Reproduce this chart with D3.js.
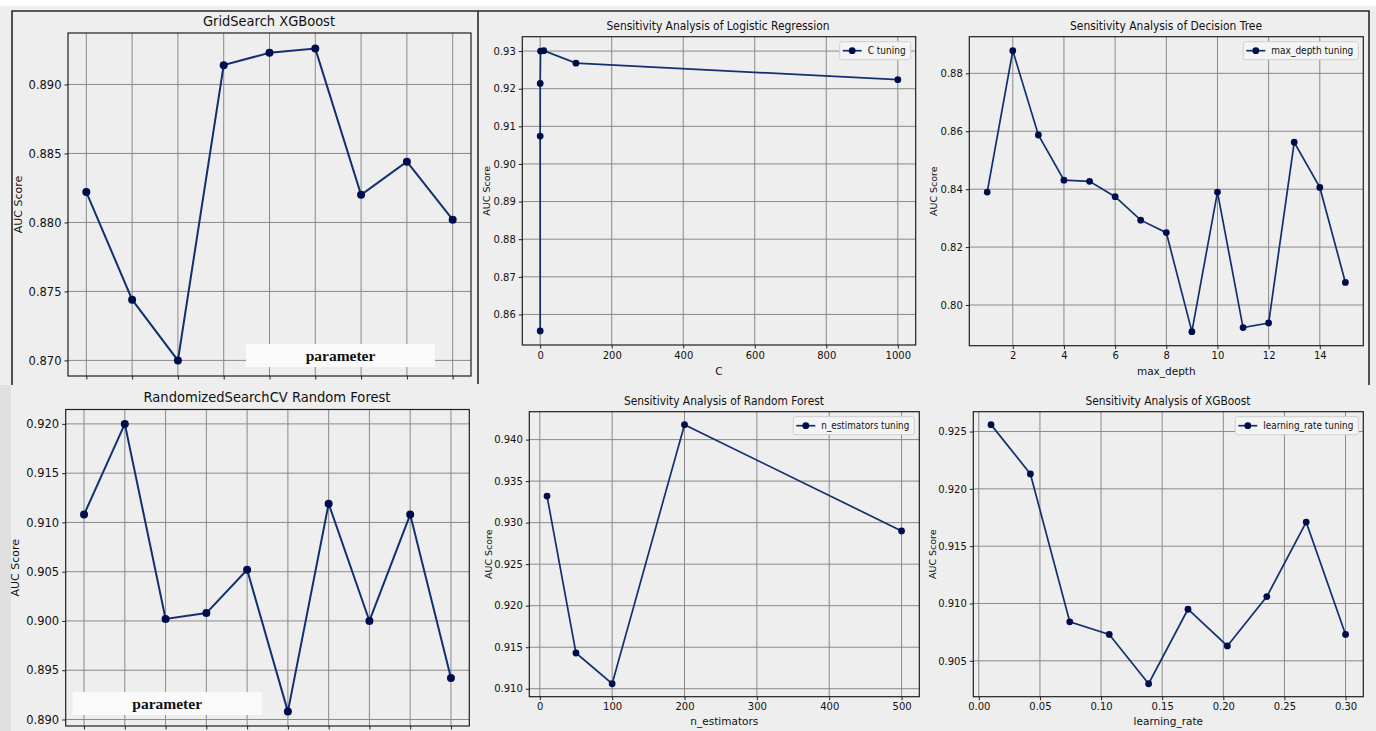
<!DOCTYPE html>
<html>
<head>
<meta charset="utf-8">
<script src="https://cdn.jsdelivr.net/npm/d3@7"></script>
<style>
body { margin: 0; background: #eeeeee; }
svg { display: block; font-family: "DejaVu Sans", sans-serif; }
</style>
</head>
<body>
<div id="container"></div>
<script>
// GridSearch XGBoost, 9 parameter combos (labels cut off in the source)
var gsXgbScores = [0.8822, 0.8744, 0.8700, 0.8914, 0.8923, 0.8926, 0.8820, 0.8844, 0.8802];
var gsXgbYTicks = [0.870, 0.875, 0.880, 0.885, 0.890];

// logistic regression, C tuning
var lrC = [0.001, 0.01, 0.1, 1, 10, 100, 1000];
var lrScores = [0.8556, 0.9074, 0.9214, 0.9300, 0.9301, 0.9268, 0.9224];
var lrXTicks = [0, 200, 400, 600, 800, 1000];
var lrYTicks = [0.86, 0.87, 0.88, 0.89, 0.90, 0.91, 0.92, 0.93];

// decision tree, max_depth tuning
var dtDepth = [1, 2, 3, 4, 5, 6, 7, 8, 9, 10, 11, 12, 13, 14, 15];
var dtScores = [0.8390, 0.8878, 0.8587, 0.8431, 0.8427, 0.8374, 0.8293, 0.8250, 0.7908, 0.8390, 0.7922, 0.7938, 0.8562, 0.8406, 0.8078];
var dtXTicks = [2, 4, 6, 8, 10, 12, 14];
var dtYTicks = [0.80, 0.82, 0.84, 0.86, 0.88];

// RandomizedSearchCV random forest, 10 parameter combos
var rsRfScores = [0.9108, 0.9200, 0.9002, 0.9008, 0.9052, 0.8908, 0.9119, 0.9000, 0.9108, 0.8942];
var rsRfYTicks = [0.890, 0.895, 0.900, 0.905, 0.910, 0.915, 0.920];

// random forest, n_estimators tuning
var rfN = [10, 50, 100, 200, 500];
var rfScores = [0.9332, 0.9143, 0.9106, 0.9418, 0.9290];
var rfXTicks = [0, 100, 200, 300, 400, 500];
var rfYTicks = [0.910, 0.915, 0.920, 0.925, 0.930, 0.935, 0.940];

// xgboost, learning_rate tuning
var xgbRate = [0.01, 0.0422, 0.0744, 0.1067, 0.1389, 0.1711, 0.2033, 0.2356, 0.2678, 0.30];
var xgbScores = [0.9256, 0.9213, 0.9084, 0.9073, 0.9030, 0.9095, 0.9063, 0.9106, 0.9171, 0.9073];
var xgbXTicks = [0.00, 0.05, 0.10, 0.15, 0.20, 0.25, 0.30];
var xgbYTicks = [0.905, 0.910, 0.915, 0.920, 0.925];

var W = 1376, H = 731;
var lineColor = "#12306f", dotColor = "#000d4c";

var svg = d3.select("div#container").append("svg")
	.attr("width", W)
	.attr("height", H);

svg.append("rect").attr("width", W).attr("height", H).attr("fill", "#eeeeee");
svg.append("rect").attr("width", W).attr("height", 6).attr("fill", "#ffffff"); //white strip on top
svg.append("rect").attr("x", 0).attr("y", 385).attr("width", 11).attr("height", H - 385).attr("fill", "#e0e0e0");

function idx(arr) { //category positions for the search plots
	return arr.map(function (d, i) { return i; });
}

function pad(ext) { //matplotlib-like 5% margins
	var m = (ext[1] - ext[0]) * 0.05;
	return [ext[0] - m, ext[1] + m];
}

var panels = [
	{ xs: idx(gsXgbScores), ys: gsXgbScores, xTicks: idx(gsXgbScores), yTicks: gsXgbYTicks, yFmt: ".3f", xFmt: null,
	  box: [68, 471, 33, 376], title: "GridSearch XGBoost", titleAt: [269, 26], titleSize: 14, titleLen: 132,
	  yLabelX: 18, tickSize: 11.5, r: 4, lw: 2, param: [246, 344, 189, 23] },
	{ xs: lrC, ys: lrScores, xTicks: lrXTicks, yTicks: lrYTicks, yFmt: ".2f", xFmt: "d",
	  box: [522.3, 915.7, 36.7, 345], title: "Sensitivity Analysis of Logistic Regression", titleAt: [718, 30], titleSize: 12.5, titleLen: 223,
	  yLabelX: 487, xLabel: "C", xLabelY: 375, tickSize: 10, r: 3.4, lw: 1.7, legend: "C tuning", legendLen: 38 },
	{ xs: dtDepth, ys: dtScores, xTicks: dtXTicks, yTicks: dtYTicks, yFmt: ".2f", xFmt: "d",
	  box: [969.3, 1363.3, 36.7, 345.7], title: "Sensitivity Analysis of Decision Tree", titleAt: [1166, 30], titleSize: 12.5, titleLen: 192,
	  yLabelX: 934, xLabel: "max_depth", xLabelY: 375, tickSize: 10, r: 3.4, lw: 1.7, legend: "max_depth tuning", legendLen: 82 },
	{ xs: idx(rsRfScores), ys: rsRfScores, xTicks: idx(rsRfScores), yTicks: rsRfYTicks, yFmt: ".3f", xFmt: null,
	  box: [65.7, 469.3, 409.5, 726], title: "RandomizedSearchCV Random Forest", titleAt: [267, 402], titleSize: 14, titleLen: 247,
	  yLabelX: 15, tickSize: 11.5, r: 4, lw: 2, param: [72.7, 692, 189, 23] },
	{ xs: rfN, ys: rfScores, xTicks: rfXTicks, yTicks: rfYTicks, yFmt: ".3f", xFmt: "d",
	  box: [529.3, 919.3, 411.7, 696.7], title: "Sensitivity Analysis of Random Forest", titleAt: [724, 405], titleSize: 12.5, titleLen: 200,
	  yLabelX: 489, xLabel: "n_estimators", xLabelY: 725, tickSize: 10, r: 3.4, lw: 1.7, legend: "n_estimators tuning", legendLen: 88 },
	{ xs: xgbRate, ys: xgbScores, xTicks: xgbXTicks, yTicks: xgbYTicks, yFmt: ".3f", xFmt: ".2f",
	  box: [973.3, 1363.3, 411.7, 696.7], title: "Sensitivity Analysis of XGBoost", titleAt: [1168, 405], titleSize: 12.5, titleLen: 165,
	  yLabelX: 933, xLabel: "learning_rate", xLabelY: 725, tickSize: 10, r: 3.4, lw: 1.7, legend: "learning_rate tuning", legendLen: 90 }
];

panels.forEach(drawPanel);

// frame round the top row and the divider
var frame = svg.append("g").attr("fill", "none").attr("stroke", "#2a2a2a").attr("stroke-width", 1.6);
frame.append("path").attr("d", "M12,385V11H1369V385");
frame.append("line").attr("x1", 478).attr("x2", 478).attr("y1", 11).attr("y2", 384);

function drawPanel(p) {
	var left = p.box[0], right = p.box[1], top = p.box[2], bottom = p.box[3];
	var xDom = p.xFmt ? pad(d3.extent(p.xs)) : [-0.4 - (p.xs.length > 9 ? 0.05 : 0), p.xs.length - 1 + 0.4 + (p.xs.length > 9 ? 0.05 : 0)];
	var x = d3.scaleLinear().domain(xDom).range([left, right]);
	var y = d3.scaleLinear().domain(pad(d3.extent(p.ys))).range([bottom, top]);
	var g = svg.append("g");

	// grid
	g.append("g").selectAll("line").data(p.xTicks).enter().append("line")
		.attr("x1", function (d) { return x(d); }).attr("x2", function (d) { return x(d); })
		.attr("y1", top).attr("y2", bottom)
		.attr("stroke", "#8a8a8a").attr("stroke-width", 1);
	g.append("g").selectAll("line").data(p.yTicks).enter().append("line")
		.attr("x1", left).attr("x2", right)
		.attr("y1", function (d) { return y(d); }).attr("y2", function (d) { return y(d); })
		.attr("stroke", "#8a8a8a").attr("stroke-width", 1);

	// axes
	var ya = g.append("g").attr("transform", "translate(" + left + ",0)")
		.call(d3.axisLeft(y).tickValues(p.yTicks).tickFormat(d3.format(p.yFmt)).tickSize(3.5).tickPadding(3));
	var xa = g.append("g").attr("transform", "translate(0," + bottom + ")")
		.call(d3.axisBottom(x).tickValues(p.xTicks).tickFormat(p.xFmt ? d3.format(p.xFmt) : "").tickSize(3.5).tickPadding(3));
	[ya, xa].forEach(function (a) {
		a.select(".domain").remove();
		a.selectAll("line").attr("stroke", "#222");
		a.selectAll("text").attr("fill", "#111").style("font-size", p.tickSize + "px").style("font-family", "DejaVu Sans");
	});

	// series
	var pts = p.xs.map(function (d, i) { return [d, p.ys[i]]; });
	g.append("path").datum(pts)
		.attr("d", d3.line().x(function (d) { return x(d[0]); }).y(function (d) { return y(d[1]); }))
		.attr("fill", "none").attr("stroke", lineColor).attr("stroke-width", p.lw);
	g.selectAll("circle.pt").data(pts).enter().append("circle")
		.attr("class", "pt")
		.attr("cx", function (d) { return x(d[0]); })
		.attr("cy", function (d) { return y(d[1]); })
		.attr("r", p.r).attr("fill", dotColor);

	g.append("rect").attr("x", left).attr("y", top).attr("width", right - left).attr("height", bottom - top)
		.attr("fill", "none").attr("stroke", "#1e1e1e").attr("stroke-width", 1.2);

	// texts
	g.append("text").attr("x", p.titleAt[0]).attr("y", p.titleAt[1])
		.attr("text-anchor", "middle").attr("fill", "#111")
		.style("font-size", p.titleSize + "px")
		.attr("textLength", p.titleLen).attr("lengthAdjust", "spacingAndGlyphs")
		.text(p.title);
	g.append("text")
		.attr("transform", "translate(" + p.yLabelX + "," + ((top + bottom) / 2) + ") rotate(-90)")
		.attr("dy", "0.35em").attr("text-anchor", "middle").attr("fill", "#111")
		.style("font-size", (p.tickSize - 0.5) + "px")
		.text("AUC Score");
	if (p.xLabel) {
		g.append("text").attr("x", (left + right) / 2).attr("y", p.xLabelY)
			.attr("text-anchor", "middle").attr("fill", "#111").style("font-size", "10.5px")
			.text(p.xLabel);
	}

	if (p.legend) { //legend in the upper right corner
		var w = 33 + p.legendLen, bx = right - 5 - w, by = top + 5;
		var lg = g.append("g");
		lg.append("rect").attr("x", bx).attr("y", by).attr("width", w).attr("height", 18).attr("rx", 2)
			.attr("fill", "#f4f4f4").attr("stroke", "#cfcfcf");
		lg.append("line").attr("x1", bx + 3).attr("x2", bx + 22).attr("y1", by + 9).attr("y2", by + 9)
			.attr("stroke", lineColor).attr("stroke-width", 1.7);
		lg.append("circle").attr("cx", bx + 12.5).attr("cy", by + 9).attr("r", 3.4).attr("fill", dotColor);
		lg.append("text").attr("x", bx + 28).attr("y", by + 12.5).attr("fill", "#111")
			.style("font-size", "10px").attr("textLength", p.legendLen).attr("lengthAdjust", "spacingAndGlyphs")
			.text(p.legend);
	}

	if (p.param) { //white label box pasted over the plot
		g.append("rect").attr("x", p.param[0]).attr("y", p.param[1]).attr("width", p.param[2]).attr("height", p.param[3])
			.attr("fill", "#fafafa");
		g.append("text").attr("x", p.param[0] + p.param[2] / 2).attr("y", p.param[1] + 17)
			.attr("text-anchor", "middle").attr("fill", "#111")
			.style("font-family", "Liberation Serif, serif").style("font-weight", "bold").style("font-size", "15.5px")
			.text("parameter");
	}
}
</script>
</body>
</html>
